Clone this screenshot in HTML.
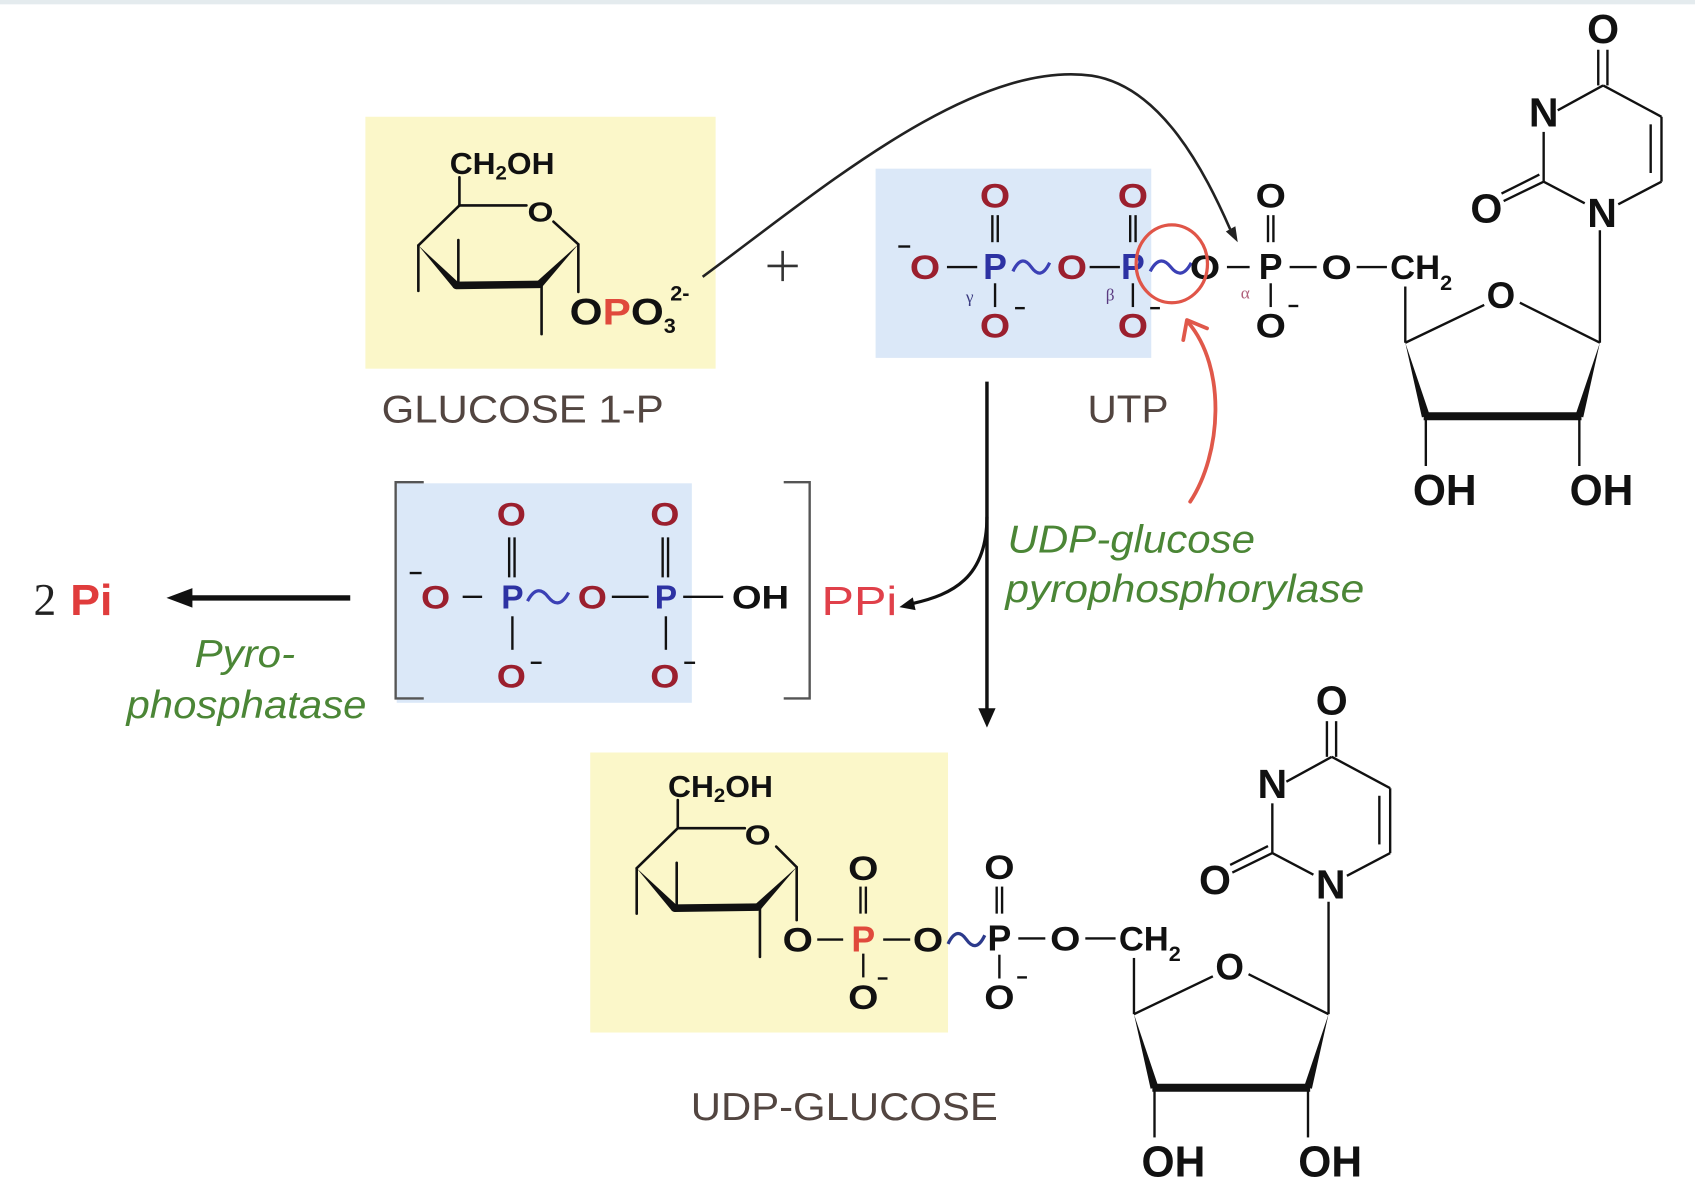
<!DOCTYPE html>
<html><head><meta charset="utf-8"><style>
html,body{margin:0;padding:0;background:#fff;}
svg{display:block;}
.a{font-family:"Liberation Sans",Arial,sans-serif;font-weight:bold;font-size:32px;text-anchor:middle;}
.s{font-family:"Liberation Sans",Arial,sans-serif;font-weight:bold;}
.r{fill:#9b1f2e}.b{fill:#2d32a3}.k{fill:#111}
.lbl{font-family:"Liberation Sans",Arial,sans-serif;fill:#524540;font-size:36px;}
.g{font-family:"Liberation Sans",Arial,sans-serif;font-style:italic;fill:#4b8636;font-size:36px;}
</style></head><body>
<svg width="1695" height="1185" viewBox="0 0 1568 1096" preserveAspectRatio="none" xmlns="http://www.w3.org/2000/svg">
<rect x="0" y="0" width="1568" height="1096" fill="#fff"/>
<rect x="0" y="0" width="1568" height="4" fill="#e4ebee"/>

<!-- boxes -->
<rect x="338" y="108" width="324" height="233" fill="#fbf7c9"/>
<rect x="810" y="156" width="255" height="175" fill="#dbe8f8"/>
<rect x="367" y="447" width="273" height="203" fill="#dbe8f8"/>
<rect x="546" y="696" width="331" height="259" fill="#fbf7c9"/>

<!-- ============ TOP GLUCOSE 1-P ============ -->
<g stroke="#111" stroke-width="2.4" fill="none" stroke-linecap="round">
<line x1="425" y1="164" x2="425" y2="190"/>
<line x1="425" y1="190" x2="487" y2="190"/>
<line x1="512" y1="205" x2="535" y2="226"/>
<line x1="387" y1="227" x2="425" y2="190"/>
<line x1="387" y1="227" x2="387" y2="269"/>
<line x1="424" y1="222" x2="424" y2="263"/>
<line x1="501" y1="263" x2="501" y2="309"/>
<line x1="535" y1="226" x2="535" y2="270"/>
<line x1="499" y1="263" x2="422" y2="264" stroke-width="7"/>
</g>
<polygon points="535,226 501.5,265.4 496.5,260.6" fill="#111"/>
<polygon points="424.5,261.6 419.5,266.4 387,227" fill="#111"/>
<text class="s k" x="416" y="161" font-size="28" textLength="97" lengthAdjust="spacingAndGlyphs">CH<tspan font-size="18" dy="5">2</tspan><tspan dy="-5">OH</tspan></text>
<text class="a k" x="500" y="205" style="font-size:26px" textLength="24" lengthAdjust="spacingAndGlyphs">O</text>
<text class="s k" x="527" y="300" font-size="34" textLength="87" lengthAdjust="spacingAndGlyphs">O<tspan fill="#e04a3c">P</tspan>O</text>
<text class="s k" x="614" y="308" font-size="20">3</text>
<text class="s k" x="620" y="278" font-size="20">2-</text>
<text class="lbl" x="353" y="391" textLength="261" lengthAdjust="spacingAndGlyphs">GLUCOSE 1-P</text>

<!-- plus -->
<g stroke="#333" stroke-width="2.4">
<line x1="710" y1="246" x2="738" y2="246"/>
<line x1="724" y1="232" x2="724" y2="260"/>
</g>

<!-- big curve arrow -->
<path d="M650 256 C760 175, 900 55, 1010 70 C1075 80, 1115 160, 1138 212" fill="none" stroke="#222" stroke-width="2.4"/>
<polygon points="1145,224 1142.8,209.3 1134,214.1" fill="#222"/>

<!-- ============ UTP ============ -->
<g stroke="#111" stroke-width="2.2" fill="none">
<line x1="831" y1="228" x2="842" y2="228"/>
<line x1="876" y1="247" x2="904" y2="247"/>
<line x1="1008" y1="247" x2="1036" y2="247"/>
<line x1="1135" y1="247" x2="1156" y2="247"/>
<line x1="918" y1="199" x2="918" y2="224"/>
<line x1="923" y1="199" x2="923" y2="224"/>
<line x1="1045.5" y1="199" x2="1045.5" y2="224"/>
<line x1="1050.5" y1="199" x2="1050.5" y2="224"/>
<line x1="920.5" y1="262" x2="920.5" y2="284"/>
<line x1="1048" y1="262" x2="1048" y2="284"/>
<line x1="939" y1="285" x2="948" y2="285"/>
<line x1="1064" y1="285" x2="1073" y2="285"/>
</g>
<path d="M937 251 C942.7 239, 948.3 239, 954 247 C959.7 255, 965.3 255, 971 243" fill="none" stroke="#3b40b5" stroke-width="3"/>
<path d="M1064 251 C1070.3 239, 1076.7 239, 1083 247 C1089.3 255, 1095.7 255, 1102 243" fill="none" stroke="#3b40b5" stroke-width="3"/>
<text class="a r" x="855.7" y="258" textLength="28" lengthAdjust="spacingAndGlyphs">O</text>
<text class="a b" x="920.5" y="258" style="font-size:33px">P</text>
<text class="a r" x="991.6" y="258" textLength="28" lengthAdjust="spacingAndGlyphs">O</text>
<text class="a b" x="1048" y="258" style="font-size:33px">P</text>
<text class="a k" x="1114.7" y="258" textLength="28" lengthAdjust="spacingAndGlyphs">O</text>
<text class="a r" x="920.5" y="192" textLength="28" lengthAdjust="spacingAndGlyphs">O</text>
<text class="a r" x="1048" y="192" textLength="28" lengthAdjust="spacingAndGlyphs">O</text>
<text class="a r" x="920.5" y="312" textLength="28" lengthAdjust="spacingAndGlyphs">O</text>
<text class="a r" x="1048" y="312" textLength="28" lengthAdjust="spacingAndGlyphs">O</text>
<text x="897" y="280" font-family="Liberation Serif, serif" font-size="16" fill="#3a3a80" text-anchor="middle">γ</text>
<text x="1027" y="278" font-family="Liberation Serif, serif" font-size="16" fill="#5a3a80" text-anchor="middle">β</text>
<text x="1152" y="276" font-family="Liberation Serif, serif" font-size="16" fill="#b0607a" text-anchor="middle">α</text>

<!-- nucleoside part (top) -->
<g>
<g stroke="#111" stroke-width="2.2" fill="none">
<line x1="1173" y1="199" x2="1173" y2="224"/>
<line x1="1178" y1="199" x2="1178" y2="224"/>
<line x1="1175.5" y1="262" x2="1175.5" y2="284"/>
<line x1="1192" y1="283" x2="1201" y2="283"/>
<line x1="1193" y1="247" x2="1218" y2="247"/>
<line x1="1255" y1="247" x2="1283" y2="247"/>
<line x1="1478.5" y1="46" x2="1478.5" y2="79"/>
<line x1="1487" y1="46" x2="1487" y2="79"/>
<line x1="1483" y1="79" x2="1441" y2="102"/>
<line x1="1428" y1="122" x2="1428" y2="168"/>
<line x1="1483" y1="79" x2="1537" y2="108"/>
<line x1="1537" y1="108" x2="1537" y2="168"/>
<line x1="1527" y1="115" x2="1527" y2="160"/>
<line x1="1537" y1="168" x2="1497" y2="189"/>
<line x1="1428" y1="168" x2="1466" y2="188"/>
<line x1="1428" y1="168" x2="1391" y2="186"/>
<line x1="1424" y1="161.5" x2="1389" y2="179"/>
<line x1="1480" y1="213" x2="1480" y2="317"/>
<line x1="1300" y1="265" x2="1300" y2="317"/>
<line x1="1300" y1="317" x2="1373" y2="282"/>
<line x1="1406" y1="280" x2="1480" y2="317"/>
<line x1="1319" y1="385" x2="1319" y2="431"/>
<line x1="1461" y1="385" x2="1461" y2="431"/>
<line x1="1317" y1="385" x2="1463" y2="385" stroke-width="7.4"/>
</g>
<polygon points="1300,317 1322.6,384 1315.4,386" fill="#111"/>
<polygon points="1480,317 1464.6,386 1457.4,384" fill="#111"/>
<text class="a k" x="1175.5" y="258" style="font-size:33px">P</text>
<text class="a k" x="1175.5" y="192" textLength="28" lengthAdjust="spacingAndGlyphs">O</text>
<text class="a k" x="1175.5" y="312" textLength="28" lengthAdjust="spacingAndGlyphs">O</text>
<text class="a k" x="1236.5" y="258" textLength="28" lengthAdjust="spacingAndGlyphs">O</text>
<text class="s k" x="1286" y="258" font-size="32">CH<tspan font-size="20" dy="10">2</tspan></text>
<text class="a k" x="1483" y="40" style="font-size:38px">O</text>
<text class="a k" x="1428" y="117" style="font-size:38px">N</text>
<text class="a k" x="1482" y="210" style="font-size:38px">N</text>
<text class="a k" x="1375" y="206" style="font-size:38px">O</text>
<text class="a k" x="1388.5" y="285" style="font-size:34px">O</text>
<text class="s k" x="1307" y="467" font-size="40" textLength="59" lengthAdjust="spacingAndGlyphs">OH</text>
<text class="s k" x="1452" y="467" font-size="40" textLength="59" lengthAdjust="spacingAndGlyphs">OH</text>
</g>

<text class="lbl" x="1006" y="391" textLength="75" lengthAdjust="spacingAndGlyphs">UTP</text>

<!-- red circle and red arrow -->
<ellipse cx="1084" cy="244" rx="33" ry="36" fill="none" stroke="#e05548" stroke-width="3"/>
<path d="M1101 464 C1130 420, 1135 340, 1099 298" fill="none" stroke="#e0584a" stroke-width="3.5" stroke-linecap="round"/>
<path d="M1116.6 303.7 L1098 296 L1094.6 314.5" fill="none" stroke="#e0584a" stroke-width="3.5" stroke-linecap="round" stroke-linejoin="round"/>

<!-- main vertical arrow -->
<line x1="913" y1="353" x2="913" y2="660" stroke="#111" stroke-width="3.2"/>
<polygon points="913,673 905,655 921,655" fill="#111"/>
<path d="M913 478 C913 535, 880 550, 845 558" fill="none" stroke="#111" stroke-width="3"/>
<polygon points="832,561.5 847,564.3 844.4,552.5" fill="#111"/>

<!-- enzyme label -->
<text class="g" x="932" y="511" textLength="229" lengthAdjust="spacingAndGlyphs">UDP-glucose</text>
<text class="g" x="930" y="557" textLength="332" lengthAdjust="spacingAndGlyphs">pyrophosphorylase</text>

<!-- PPi label -->
<text x="760" y="569" font-family="Liberation Sans, Arial, sans-serif" font-size="38" fill="#e0404a" textLength="70" lengthAdjust="spacingAndGlyphs">PPi</text>

<!-- ============ PPi molecule ============ -->
<path d="M392 446 H366 V646 H392" fill="none" stroke="#555" stroke-width="2.2"/>
<path d="M725 446 H749 V646 H725" fill="none" stroke="#555" stroke-width="2.2"/>
<g stroke="#111" stroke-width="2.2" fill="none">
<line x1="379" y1="530" x2="390" y2="530"/>
<line x1="428" y1="552" x2="446" y2="552"/>
<line x1="566" y1="552" x2="600" y2="552"/>
<line x1="632" y1="552" x2="669" y2="552"/>
<line x1="471" y1="497" x2="471" y2="534"/>
<line x1="476" y1="497" x2="476" y2="534"/>
<line x1="613" y1="497" x2="613" y2="534"/>
<line x1="618" y1="497" x2="618" y2="534"/>
<line x1="474" y1="570" x2="474" y2="601"/>
<line x1="616" y1="570" x2="616" y2="601"/>
<line x1="491" y1="613" x2="501" y2="613"/>
<line x1="633" y1="613" x2="643" y2="613"/>
</g>
<path d="M488 556 C494.3 544, 500.7 544, 507 552 C513.3 560, 519.7 560, 526 548" fill="none" stroke="#3b40b5" stroke-width="3"/>
<text class="a r" x="403" y="563" style="font-size:30px" textLength="27" lengthAdjust="spacingAndGlyphs">O</text>
<text class="a b" x="474" y="563" style="font-size:31px">P</text>
<text class="a r" x="548" y="563" style="font-size:30px" textLength="27" lengthAdjust="spacingAndGlyphs">O</text>
<text class="a b" x="616" y="563" style="font-size:31px">P</text>
<text class="a r" x="473" y="486" style="font-size:30px" textLength="27" lengthAdjust="spacingAndGlyphs">O</text>
<text class="a r" x="615" y="486" style="font-size:30px" textLength="27" lengthAdjust="spacingAndGlyphs">O</text>
<text class="a r" x="473" y="636" style="font-size:30px" textLength="27" lengthAdjust="spacingAndGlyphs">O</text>
<text class="a r" x="615" y="636" style="font-size:30px" textLength="27" lengthAdjust="spacingAndGlyphs">O</text>
<text class="s k" x="677" y="563" font-size="30" textLength="53" lengthAdjust="spacingAndGlyphs">OH</text>

<!-- 2 Pi and pyrophosphatase -->
<line x1="172" y1="553" x2="324" y2="553" stroke="#111" stroke-width="5"/>
<polygon points="154,553 178,544 178,562" fill="#111"/>
<text x="31" y="569" font-family="Liberation Serif, serif" font-size="42" fill="#222">2</text>
<text class="s" x="65" y="569" font-size="40" fill="#e03c3c" textLength="39" lengthAdjust="spacingAndGlyphs">Pi</text>
<text class="g" x="180" y="617" textLength="93" lengthAdjust="spacingAndGlyphs">Pyro-</text>
<text class="g" x="117" y="664" textLength="222" lengthAdjust="spacingAndGlyphs">phosphatase</text>

<!-- ============ BOTTOM UDP-GLUCOSE ============ -->
<g stroke="#111" stroke-width="2.4" fill="none" stroke-linecap="round">
<line x1="627" y1="740" x2="627" y2="766"/>
<line x1="627" y1="766" x2="689" y2="766"/>
<line x1="718" y1="783" x2="737" y2="802"/>
<line x1="589" y1="803" x2="627" y2="766"/>
<line x1="589" y1="803" x2="589" y2="845"/>
<line x1="626" y1="798" x2="626" y2="839"/>
<line x1="703" y1="839" x2="703" y2="885"/>
<line x1="737" y1="802" x2="737" y2="851"/>
<line x1="701" y1="839" x2="624" y2="840" stroke-width="7"/>
</g>
<polygon points="737,802 703.5,841.4 698.5,836.6" fill="#111"/>
<polygon points="626.5,837.6 621.5,842.4 589,803" fill="#111"/>
<text class="s k" x="618" y="737" font-size="28" textLength="97" lengthAdjust="spacingAndGlyphs">CH<tspan font-size="18" dy="5">2</tspan><tspan dy="-5">OH</tspan></text>
<text class="a k" x="701" y="781" style="font-size:26px" textLength="24" lengthAdjust="spacingAndGlyphs">O</text>

<g stroke="#111" stroke-width="2.2" fill="none">
<line x1="756" y1="869" x2="780" y2="869"/>
<line x1="817" y1="869" x2="842" y2="869"/>
<line x1="796" y1="820" x2="796" y2="845"/>
<line x1="801" y1="820" x2="801" y2="845"/>
<line x1="798.6" y1="882" x2="798.6" y2="904"/>
<line x1="812" y1="905" x2="821" y2="905"/>
</g>
<path d="M877 873 C882.7 861, 888.3 861, 894 869 C899.7 877, 905.3 877, 911 865" fill="none" stroke="#2c3a8c" stroke-width="3"/>
<text class="a k" x="738" y="880" textLength="28" lengthAdjust="spacingAndGlyphs">O</text>
<text class="a" x="798.6" y="880" fill="#e04a3c" style="font-size:33px">P</text>
<text class="a k" x="798.6" y="814" textLength="28" lengthAdjust="spacingAndGlyphs">O</text>
<text class="a k" x="798.6" y="933" textLength="28" lengthAdjust="spacingAndGlyphs">O</text>
<text class="a k" x="858.5" y="880" textLength="28" lengthAdjust="spacingAndGlyphs">O</text>

<!-- nucleoside part (bottom, shifted copy) -->
<g transform="translate(-251,621)">
<g stroke="#111" stroke-width="2.2" fill="none">
<line x1="1173" y1="199" x2="1173" y2="224"/>
<line x1="1178" y1="199" x2="1178" y2="224"/>
<line x1="1175.5" y1="262" x2="1175.5" y2="284"/>
<line x1="1192" y1="283" x2="1201" y2="283"/>
<line x1="1193" y1="247" x2="1218" y2="247"/>
<line x1="1255" y1="247" x2="1283" y2="247"/>
<line x1="1478.5" y1="46" x2="1478.5" y2="79"/>
<line x1="1487" y1="46" x2="1487" y2="79"/>
<line x1="1483" y1="79" x2="1441" y2="102"/>
<line x1="1428" y1="122" x2="1428" y2="168"/>
<line x1="1483" y1="79" x2="1537" y2="108"/>
<line x1="1537" y1="108" x2="1537" y2="168"/>
<line x1="1527" y1="115" x2="1527" y2="160"/>
<line x1="1537" y1="168" x2="1497" y2="189"/>
<line x1="1428" y1="168" x2="1466" y2="188"/>
<line x1="1428" y1="168" x2="1391" y2="186"/>
<line x1="1424" y1="161.5" x2="1389" y2="179"/>
<line x1="1480" y1="213" x2="1480" y2="317"/>
<line x1="1300" y1="265" x2="1300" y2="317"/>
<line x1="1300" y1="317" x2="1373" y2="282"/>
<line x1="1406" y1="280" x2="1480" y2="317"/>
<line x1="1319" y1="385" x2="1319" y2="431"/>
<line x1="1461" y1="385" x2="1461" y2="431"/>
<line x1="1317" y1="385" x2="1463" y2="385" stroke-width="7.4"/>
</g>
<polygon points="1300,317 1322.6,384 1315.4,386" fill="#111"/>
<polygon points="1480,317 1464.6,386 1457.4,384" fill="#111"/>
<text class="a k" x="1175.5" y="258" style="font-size:33px">P</text>
<text class="a k" x="1175.5" y="192" textLength="28" lengthAdjust="spacingAndGlyphs">O</text>
<text class="a k" x="1175.5" y="312" textLength="28" lengthAdjust="spacingAndGlyphs">O</text>
<text class="a k" x="1236.5" y="258" textLength="28" lengthAdjust="spacingAndGlyphs">O</text>
<text class="s k" x="1286" y="258" font-size="32">CH<tspan font-size="20" dy="10">2</tspan></text>
<text class="a k" x="1483" y="40" style="font-size:38px">O</text>
<text class="a k" x="1428" y="117" style="font-size:38px">N</text>
<text class="a k" x="1482" y="210" style="font-size:38px">N</text>
<text class="a k" x="1375" y="206" style="font-size:38px">O</text>
<text class="a k" x="1388.5" y="285" style="font-size:34px">O</text>
<text class="s k" x="1307" y="467" font-size="40" textLength="59" lengthAdjust="spacingAndGlyphs">OH</text>
<text class="s k" x="1452" y="467" font-size="40" textLength="59" lengthAdjust="spacingAndGlyphs">OH</text>
</g>

<text class="lbl" x="639" y="1036" textLength="284" lengthAdjust="spacingAndGlyphs">UDP-GLUCOSE</text>
</svg>
</body></html>
